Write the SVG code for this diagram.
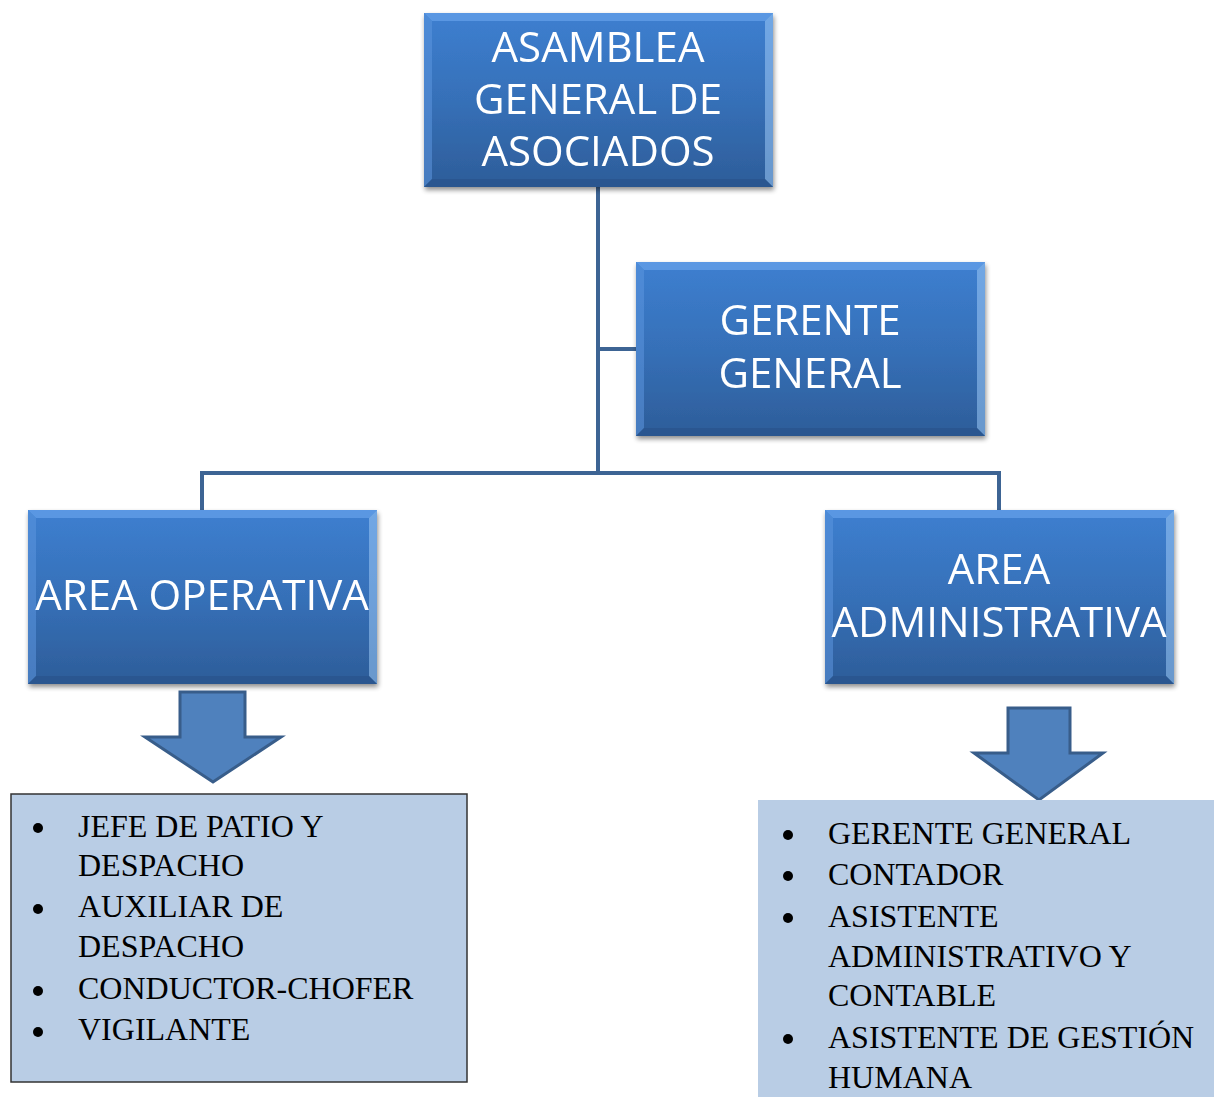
<svg xmlns="http://www.w3.org/2000/svg" width="1214" height="1097" viewBox="0 0 1214 1097">
<defs>
<linearGradient id="g" x1="0" y1="0" x2="0" y2="1">
<stop offset="0" stop-color="#3d7fd0"/>
<stop offset="0.5" stop-color="#3670b8"/>
<stop offset="1" stop-color="#2d5d99"/>
</linearGradient>
<filter id="sh" x="-10%" y="-10%" width="120%" height="130%">
<feGaussianBlur in="SourceAlpha" stdDeviation="2.5"/>
<feOffset dx="1" dy="3"/>
<feComponentTransfer><feFuncA type="linear" slope="0.45"/></feComponentTransfer>
<feMerge><feMergeNode/><feMergeNode in="SourceGraphic"/></feMerge>
</filter>
<g id="box">
<rect x="0" y="0" width="349" height="174" fill="url(#g)"/>
<polygon points="0,0 349,0 341,8 8,8" fill="#6aa5ec" opacity="0.65"/>
<polygon points="0,0 8,8 8,166 0,174" fill="#5c96de" opacity="0.55"/>
<polygon points="349,0 349,174 341,166 341,8" fill="#9cc8f5" opacity="0.55"/>
<polygon points="0,174 8,166 341,166 349,174" fill="#254f85" opacity="0.5"/>
</g>
</defs>
<style>
.t{font-family:"Open Sans","Noto Sans",sans-serif;font-size:42px;fill:#ffffff;text-anchor:middle}
.l{font-family:"Liberation Serif","Times New Roman",serif;font-size:32px;fill:#000000}
.c{fill:none;stroke:#3d6494;stroke-width:4}
.ar{fill:#4f81bd;stroke:#385d8a;stroke-width:3;stroke-linejoin:miter}
</style>
<rect width="1214" height="1097" fill="#ffffff"/>
<g id="connectors">
<path class="c" d="M598,187 V473"/>
<path class="c" d="M598,349 H636"/>
<path class="c" d="M202,510 V473 H999 V510"/>
</g>
<g id="asamblea" filter="url(#sh)">
<use href="#box" x="424" y="13"/>
<text class="t" x="598" y="62">ASAMBLEA</text>
<text class="t" x="598" y="114">GENERAL DE</text>
<text class="t" x="598" y="166">ASOCIADOS</text>
</g>
<g id="gerente" filter="url(#sh)">
<use href="#box" x="636" y="262"/>
<text class="t" x="810" y="335">GERENTE</text>
<text class="t" x="810" y="388">GENERAL</text>
</g>
<g id="operativa" filter="url(#sh)">
<use href="#box" x="28" y="510"/>
<text class="t" x="202" y="610">AREA OPERATIVA</text>
</g>
<g id="administrativa" filter="url(#sh)">
<use href="#box" x="825" y="510"/>
<text class="t" x="999" y="584">AREA</text>
<text class="t" x="999" y="637">ADMINISTRATIVA</text>
</g>
<g id="arrow-left">
<polygon class="ar" points="180,692 245,692 245,737 281,737 213,782 145,737 180,737"/>
</g>
<g id="arrow-right">
<polygon class="ar" points="1008,708 1070,708 1070,753 1103,753 1039,800 974,753 1008,753"/>
</g>
<g id="list-operativa">
<rect x="11" y="794" width="456" height="288" fill="#b9cde5" stroke="#333333" stroke-width="1.5"/>
<circle cx="38" cy="828" r="5"/>
<circle cx="38" cy="909" r="5"/>
<circle cx="38" cy="991" r="5"/>
<circle cx="38" cy="1032" r="5"/>
<text class="l" x="78" y="837">JEFE DE PATIO Y</text>
<text class="l" x="78" y="876">DESPACHO</text>
<text class="l" x="78" y="917">AUXILIAR DE</text>
<text class="l" x="78" y="957">DESPACHO</text>
<text class="l" x="78" y="999">CONDUCTOR-CHOFER</text>
<text class="l" x="78" y="1040">VIGILANTE</text>
</g>
<g id="list-administrativa">
<rect x="758" y="800" width="456" height="297" fill="#b9cde5"/>
<circle cx="788" cy="835" r="5"/>
<circle cx="788" cy="876" r="5"/>
<circle cx="788" cy="918" r="5"/>
<circle cx="788" cy="1039" r="5"/>
<text class="l" x="828" y="844">GERENTE GENERAL</text>
<text class="l" x="828" y="885">CONTADOR</text>
<text class="l" x="828" y="927">ASISTENTE</text>
<text class="l" x="828" y="967">ADMINISTRATIVO Y</text>
<text class="l" x="828" y="1006">CONTABLE</text>
<text class="l" x="828" y="1048">ASISTENTE DE GESTIÓN</text>
<text class="l" x="828" y="1088">HUMANA</text>
</g>
</svg>
